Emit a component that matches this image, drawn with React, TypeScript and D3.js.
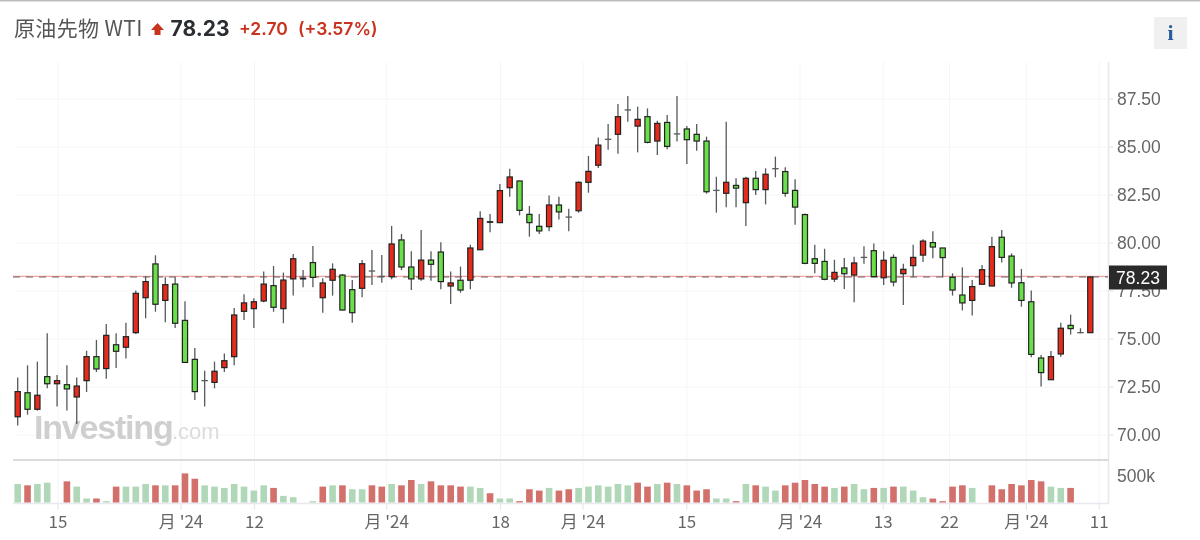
import React from "react";
import * as d3 from "d3";

const opens = [70.95,72.20,71.34,73.04,72.67,72.62,71.98,72.83,74.08,73.46,74.70,74.57,75.33,77.15,78.91,77.01,77.86,75.97,73.94,72.83,72.74,73.51,74.08,76.44,76.58,76.98,77.78,76.58,78.13,78.16,78.98,77.15,78.06,78.33,77.57,77.64,78.54,78.26,78.25,80.16,78.75,78.13,79.11,79.53,77.76,78.06,78.06,79.65,81.11,81.06,82.88,83.23,81.49,80.87,80.85,81.98,81.35,81.68,83.16,84.05,85.40,85.66,86.93,86.09,86.58,85.31,86.28,85.68,85.94,85.66,85.31,82.74,82.59,83.00,82.10,83.37,82.78,83.87,83.72,82.74,81.48,79.18,79.04,78.12,78.70,78.33,79.25,79.60,78.19,79.25,78.40,78.82,79.37,80.02,79.74,78.21,77.29,77.01,77.85,77.76,80.30,79.32,77.93,76.94,74.01,72.88,74.22,75.71,75.33,75.33];
const closes = [72.26,71.34,72.07,72.67,72.83,72.40,72.55,74.08,73.44,75.19,74.36,75.12,77.38,77.99,76.81,77.83,75.82,73.78,72.26,72.83,73.32,73.87,76.25,76.88,76.94,77.86,76.65,78.07,79.18,78.13,78.21,77.92,78.63,76.51,76.37,78.92,78.54,78.26,79.95,78.75,78.13,79.11,78.89,77.99,77.92,77.55,79.74,81.28,81.08,82.73,83.44,81.70,81.06,80.63,81.98,81.62,81.35,83.16,83.73,85.10,85.40,86.58,86.93,86.44,85.24,86.23,85.03,85.68,85.38,85.31,82.67,82.74,83.16,82.86,83.37,82.78,83.58,83.87,82.59,81.87,78.94,78.94,78.11,78.47,78.40,78.96,79.25,78.25,79.10,77.97,78.63,79.25,80.10,79.79,79.24,77.55,76.88,77.73,78.61,79.81,79.25,77.92,77.01,74.20,73.25,74.08,75.56,75.54,75.33,78.23];
const highs = [73.00,73.63,73.82,75.30,73.12,73.63,73.00,74.39,74.95,75.78,75.30,75.85,77.52,78.28,79.36,78.21,78.21,76.96,74.53,73.35,73.82,74.25,76.61,77.33,77.12,78.51,78.80,78.46,79.43,78.59,79.84,78.16,78.94,78.39,78.07,79.11,79.64,79.38,80.89,80.47,79.57,80.68,79.57,80.04,78.51,78.77,79.91,81.65,81.51,83.07,83.87,83.25,81.93,81.51,82.48,82.41,81.79,83.21,84.53,85.50,86.20,87.24,87.66,87.10,87.01,86.37,86.67,87.66,86.09,86.20,85.54,83.45,86.32,83.37,83.45,83.75,83.89,84.50,83.94,83.32,81.54,79.91,79.70,79.13,79.22,79.29,79.83,79.98,79.57,79.41,78.92,79.91,80.19,80.61,79.74,78.42,78.73,78.07,78.85,80.33,80.68,79.46,78.65,77.52,74.17,74.38,75.85,76.27,75.56,78.28];
const lows = [70.50,71.06,71.27,72.43,71.48,71.27,70.57,72.24,73.28,72.93,73.49,73.98,75.26,76.08,76.42,75.87,75.57,73.78,71.82,71.48,72.43,73.28,73.63,75.99,75.57,76.91,76.42,75.82,77.26,77.69,77.69,76.37,77.26,76.48,75.85,77.17,77.81,77.93,78.11,78.59,77.55,78.04,78.04,77.59,76.82,77.41,77.59,79.65,80.56,81.06,82.41,81.44,80.33,80.47,80.61,81.23,80.61,81.58,82.62,83.91,84.86,84.65,86.32,84.72,85.19,84.58,84.88,85.28,84.11,84.81,82.57,81.58,81.86,81.86,80.89,82.50,82.01,83.42,82.41,80.95,78.89,78.42,78.06,77.97,77.60,76.91,78.92,78.25,77.81,77.74,76.77,78.21,79.01,79.20,78.21,77.26,76.49,76.22,77.85,77.76,78.99,77.67,76.68,74.05,72.52,72.88,74.08,75.23,75.30,75.33];
const volumes = [349,324,349,374,0,399,300,75,75,25,300,300,300,349,324,324,324,549,449,324,300,275,349,300,225,324,275,125,100,0,25,300,324,324,250,250,324,300,349,324,424,349,399,324,324,300,300,275,175,75,75,25,250,225,275,225,250,275,300,324,300,349,324,374,300,349,374,349,324,225,250,75,75,25,349,324,300,225,324,374,424,349,300,275,300,349,250,275,275,300,300,225,100,75,25,300,324,275,0,324,250,349,324,424,399,300,275,275,0,0];
const volumeSides = "GRGGRRGGRGRGGGRGRRRGGGGGGGRGGGGRGRGGRRGRRGRRRRGGRGGRRRGRRGGGGGGRRGRGRRRGGRGRGGRRRRRGRGGRGRGGGRRRRGGRRRRRRGGRGG".split("");
const yTicks = [87.5, 85, 82.5, 80, 77.5, 75, 72.5, 70];
const xTickPositions = [4.1, 16.6, 24.07, 37.5, 49.07, 57.45, 68, 79.5, 87.95, 94.7, 102.5, 109.9];
const xTickLabels = ["15", "月 '24", "12", "月 '24", "18", "月 '24", "15", "月 '24", "13", "22", "月 '24", "11"];
const lastPrice = 78.23;
const title = "原油先物 WTI";
const lastPriceText = "78.23";
const changeText = "+2.70";
const changePctText = "(+3.57%)";

const W = 1200, H = 540;
const RED = "#e62c1c", GREEN = "#69e04a", INK = "#222", WICK = "#555a5c";
const VOL_RED = "#d2706c", VOL_GREEN = "#b0d8b8";
const FONT = "'Liberation Sans', Arial, sans-serif";
const HEAD = "Inter, 'Liberation Sans', sans-serif";
const CJK = "'Noto Sans CJK JP', 'Liberation Sans', sans-serif";

const x = d3.scaleLinear().domain([0, 109]).range([17.7, 1090.3]);
const y = d3.scaleLinear().domain([70, 87.5]).range([435, 99]);
const vol = d3.scaleLinear().domain([0, 500]).range([502.5, 476]);

export default function App() {
  const priceY = y(lastPrice);
  return (
    <svg width={W} height={H} viewBox={`0 0 ${W} ${H}`} style={{ position: "absolute", left: 0, top: 0, background: "#fff" }}>
      <defs>
        <filter id="soft" x="0" y="0" width="100%" height="100%">
          <feGaussianBlur stdDeviation="0.4" />
        </filter>
      </defs>
      <g filter="url(#soft)">
        <rect x={0} y={0} width={W} height={H} fill="#fff" />
        <rect x={0} y={0} width={W} height={1.5} fill="#bdbdbd" />

        {/* header */}
        <text x={14} y={36} fontFamily={CJK} fontSize={21} letterSpacing={0.35} fill="#555">{title}</text>
        <path d={d3.line()([[157.5, 23], [164, 30], [160.5, 30], [160.5, 35], [154.5, 35], [154.5, 30], [151, 30]]) + "Z"} fill="#c9301f" />
        <text x={170.5} y={36} fontFamily={HEAD} fontSize={21} fontWeight={700} fill="#2b2f33">{lastPriceText}</text>
        <text x={239} y={35} fontFamily={HEAD} fontSize={17.5} fontWeight={600} fill="#c9301f">{changeText}</text>
        <text x={298} y={35} fontFamily={HEAD} fontSize={17.5} fontWeight={600} fill="#c9301f">{changePctText}</text>
        <rect x={1154} y={17} width={33} height={32} fill="#f0f0f0" />
        <text x={1170.5} y={40} textAnchor="middle" fontFamily="'Liberation Serif', serif" fontWeight={700} fontSize={22} fill="#2a5a9e">i</text>

        {/* grid */}
        {yTicks.map((t) => (
          <g key={t}>
            <line x1={14} x2={1108} y1={y(t)} y2={y(t)} stroke="#f6f6f8" />
            <line x1={1108} x2={1113} y1={y(t)} y2={y(t)} stroke="#dcdce4" />
          </g>
        ))}
        {xTickPositions.map((p, i) => (
          <g key={i}>
            <line x1={x(p)} x2={x(p)} y1={62} y2={503} stroke="#f5f5f7" />
            <line x1={x(p)} x2={x(p)} y1={503} y2={510} stroke="#e4e4ea" />
            <text x={x(p)} y={528} textAnchor="middle" fontFamily={CJK} fontSize={17} fill="#666">{xTickLabels[i]}</text>
          </g>
        ))}
        <line x1={1108.5} x2={1108.5} y1={62} y2={503} stroke="#e8e8ee" strokeWidth={1.5} />
        <line x1={13} x2={1109} y1={503.5} y2={503.5} stroke="#e8e8ee" strokeWidth={1.5} />
        <line x1={13} x2={1109} y1={460} y2={460} stroke="#dcdcdc" strokeWidth={2} />

        {/* watermark */}
        <text x={34} y={439} fontFamily={FONT} fontWeight={700} fontSize={34} letterSpacing={-1.2} fill="#cfcfcf">Investing</text>
        <text x={172} y={439} fontFamily={FONT} fontSize={22} fill="#dcdcdc">.com</text>

        {/* y labels */}
        {yTicks.map((t) => (
          <text key={t} x={1117} y={y(t) + 6} fontFamily={FONT} fontSize={17.5} fill="#666">{t.toFixed(2)}</text>
        ))}
        <text x={1117} y={482} fontFamily={FONT} fontSize={17.5} fill="#666">500k</text>

        {/* volume */}
        {volumes.map((v, i) =>
          v > 0 ? (
            <rect key={i} x={x(i) - 3.3} y={vol(v)} width={6.6} height={vol(0) - vol(v)} fill={volumeSides[i] === "R" ? VOL_RED : VOL_GREEN} />
          ) : null
        )}

        {/* last price line */}
        <line x1={13} x2={1108} y1={priceY - 0.6} y2={priceY - 0.6} stroke="#f5a3a0" strokeWidth={1.2} />
        <line x1={13} x2={1108} y1={priceY} y2={priceY} stroke="#6b6466" strokeWidth={1.1} strokeDasharray="7 6" />

        {/* candles */}
        {opens.map((o, i) => {
          const c = closes[i];
          const top = y(Math.max(o, c));
          const bot = y(Math.min(o, c));
          const doji = Math.abs(o - c) < 0.005;
          return (
            <g key={i}>
              <line x1={x(i)} x2={x(i)} y1={y(highs[i])} y2={y(lows[i])} stroke={WICK} strokeWidth={1.3} />
              {doji ? (
                <line x1={x(i) - 3.2} x2={x(i) + 3.2} y1={top} y2={top} stroke={WICK} strokeWidth={1.3} />
              ) : (
                <rect x={x(i) - 2.6} y={top} width={5.2} height={Math.max(bot - top, 0.6)} fill={c > o ? RED : GREEN} stroke={INK} strokeWidth={1.2} />
              )}
            </g>
          );
        })}

        {/* last price label */}
        <rect x={1109} y={265.5} width={58} height={24} fill="#2a2a2c" />
        <text x={1138} y={284} textAnchor="middle" fontFamily={FONT} fontSize={17.5} fill="#fff">{lastPriceText}</text>
      </g>
    </svg>
  );
}
